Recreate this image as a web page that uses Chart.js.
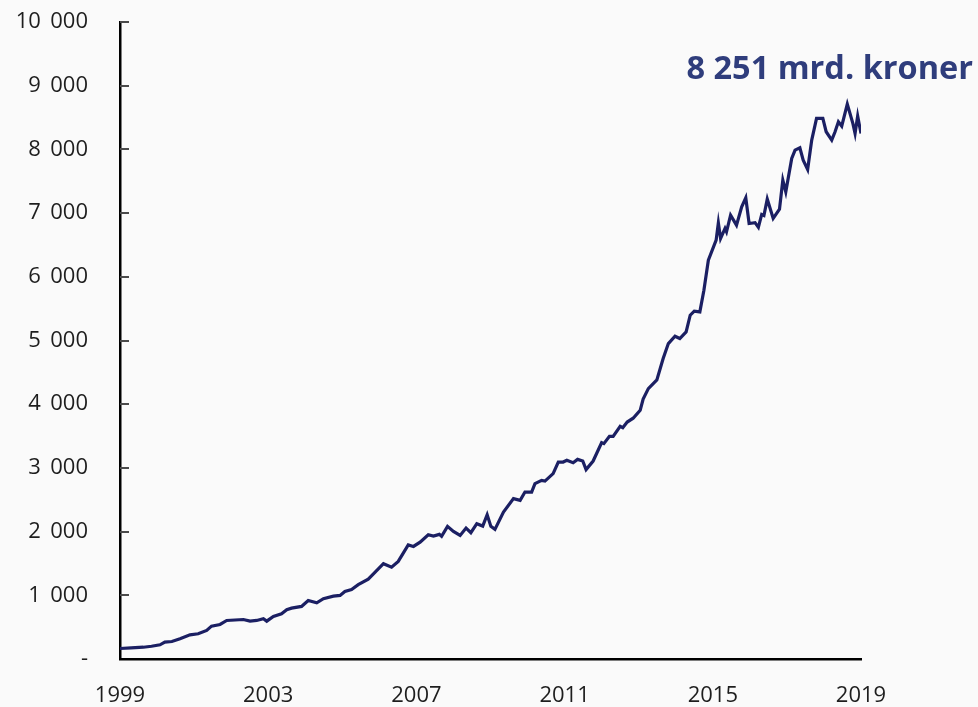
<!DOCTYPE html>
<html>
<head>
<meta charset="utf-8">
<script src="https://cdn.jsdelivr.net/npm/chart.js@4/dist/chart.umd.min.js"></script>
<style>
  html, body { margin: 0; padding: 0; background: #fafafa; }
  #wrap { width: 978px; height: 707px; position: relative; }
</style>
</head>
<body>
<div id="wrap"><canvas id="canvas"></canvas></div>
<script>
	// time (decimal year) and value in mrd. kroner
	var years = [
		1999.00, 1999.30, 1999.63, 1999.85, 2000.08, 2000.21, 2000.40, 2000.62, 2000.89,
		2001.11, 2001.34, 2001.47, 2001.70, 2001.88, 2002.33, 2002.51, 2002.69, 2002.87, 2002.96,
		2003.14, 2003.36, 2003.50, 2003.63, 2003.90, 2004.08, 2004.31, 2004.49, 2004.76, 2004.94,
		2005.07, 2005.25, 2005.43, 2005.70, 2005.88, 2006.11, 2006.33, 2006.51, 2006.78, 2006.92,
		2007.10, 2007.32, 2007.46, 2007.62, 2007.68, 2007.84, 2008.00, 2008.18, 2008.34, 2008.47,
		2008.63, 2008.79, 2008.91, 2009.01, 2009.12, 2009.35, 2009.62, 2009.80, 2009.93,
		2010.11, 2010.20, 2010.38, 2010.47, 2010.69, 2010.83, 2010.96, 2011.06, 2011.23, 2011.35,
		2011.49, 2011.58, 2011.77, 2012.00, 2012.06, 2012.21, 2012.31, 2012.50, 2012.57, 2012.69,
		2012.85, 2013.04, 2013.12, 2013.26, 2013.49, 2013.66, 2013.80, 2013.98, 2014.11, 2014.28,
		2014.39, 2014.50, 2014.65, 2014.76, 2014.88, 2015.09, 2015.15, 2015.21, 2015.33, 2015.37,
		2015.48, 2015.64, 2015.78, 2015.89, 2015.98, 2016.14, 2016.23, 2016.32, 2016.38, 2016.47,
		2016.63, 2016.80, 2016.89, 2016.97, 2017.13, 2017.22, 2017.35, 2017.44, 2017.56, 2017.67,
		2017.80, 2017.97, 2018.06, 2018.21, 2018.30, 2018.39, 2018.48, 2018.63, 2018.78, 2018.84,
		2018.91, 2019.00
	];
	var values = [
		165, 175, 185, 200, 223, 264, 275, 317, 380,
		396, 448, 516, 542, 605, 620, 594, 605, 632, 594,
		668, 710, 773, 798, 825, 919, 883, 946, 987, 998,
		1060, 1092, 1166, 1254, 1359, 1496, 1442, 1532, 1790, 1767,
		1835, 1951, 1929, 1956, 1925, 2082, 2003, 1940, 2055, 1983,
		2124, 2087, 2265, 2082, 2035, 2306, 2517, 2490, 2621,
		2621, 2753, 2804, 2793, 2910, 3092, 3092, 3119, 3082, 3134,
		3108, 2973, 3108, 3397, 3381, 3496, 3496, 3653, 3632, 3720,
		3780, 3904, 4080, 4245, 4380, 4716, 4952, 5067, 5031, 5134,
		5397, 5460, 5449, 5790, 6261, 6575, 6847, 6602, 6759, 6706,
		6968, 6811, 7098, 7240, 6837, 6850, 6776, 6979, 6962, 7220,
		6916, 7060, 7518, 7334, 7858, 7989, 8025, 7832, 7686, 8146,
		8487, 8487, 8277, 8146, 8277, 8434, 8366, 8712, 8409, 8251,
		8523, 8251
	];
	var xTicks = [1999, 2003, 2007, 2011, 2015, 2019];
	var yMax = 10000;
	var yStep = 1000;
	var label = '8 251 mrd. kroner';

	var points = [];
	for (var i = 0; i < years.length; ++i) {
		points.push({ x: years[i], y: values[i] });
	}

	function fmt(v) {
		if (v === 0) return '-';
		return String(v).replace(/\B(?=(\d{3})+(?!\d))/g, '\u2009 ');
	}

	// small tick marks on the inside of the y axis, plus the value label
	var innerTicks = {
		id: 'innerTicks',
		afterDraw: function (chart) {
			var ctx = chart.ctx;
			var y = chart.scales.y;
			var left = chart.chartArea.left;
			ctx.save();
			ctx.fillStyle = '#4a4a4a';
			for (var v = yStep; v <= yMax; v += yStep) {
				var py = Math.round(y.getPixelForValue(v));
				ctx.fillRect(left, py - 1, 9, 2);
			}
			ctx.fillStyle = '#2f3d7c';
			ctx.font = 'bold 32.5px "Open Sans"';
			ctx.textAlign = 'right';
			ctx.textBaseline = 'middle';
			ctx.fillText(label, 973, 70);
			ctx.restore();
		}
	};

	window.onload = function () {
		var ctx = document.getElementById('canvas').getContext('2d');
		window.myLine = new Chart(ctx, {
			type: 'line',
			data: {
				datasets: [{
					label: 'Formue',
					data: points,
					borderColor: '#1b1f63',
					borderWidth: 3.2,
					pointRadius: 0,
					tension: 0,
					fill: false
				}]
			},
			options: {
				responsive: true,
				maintainAspectRatio: false,
				animation: false,
				layout: { padding: { top: 0, right: 117, left: 0, bottom: 0 } },
				plugins: {
					legend: { display: false },
					tooltip: { enabled: false }
				},
				scales: {
					x: {
						type: 'linear',
						min: 1999,
						max: 2019,
						afterBuildTicks: function (scale) {
							scale.ticks = xTicks.map(function (v) { return { value: v }; });
						},
						afterFit: function (scale) { scale.height = 48; },
						grid: { display: false, drawTicks: false },
						border: { display: true, color: '#000', width: 2.5 },
						ticks: {
							color: '#1e1e1e',
							font: { family: '"Open Sans"', size: 22 },
							padding: 24,
							maxRotation: 0,
							callback: function (v) { return String(v); }
						}
					},
					y: {
						min: 0,
						max: yMax,
						afterFit: function (scale) {
							scale.width = 120;
							scale.paddingTop = 22;
							scale.paddingBottom = 0;
						},
						grid: { display: false, drawTicks: false },
						border: { display: true, color: '#000', width: 2.5 },
						ticks: {
							stepSize: yStep,
							color: '#1e1e1e',
							font: { family: '"Open Sans"', size: 22 },
							padding: 32,
							callback: fmt
						}
					}
				}
			},
			plugins: [innerTicks]
		});
	};
</script>
</body>
</html>
